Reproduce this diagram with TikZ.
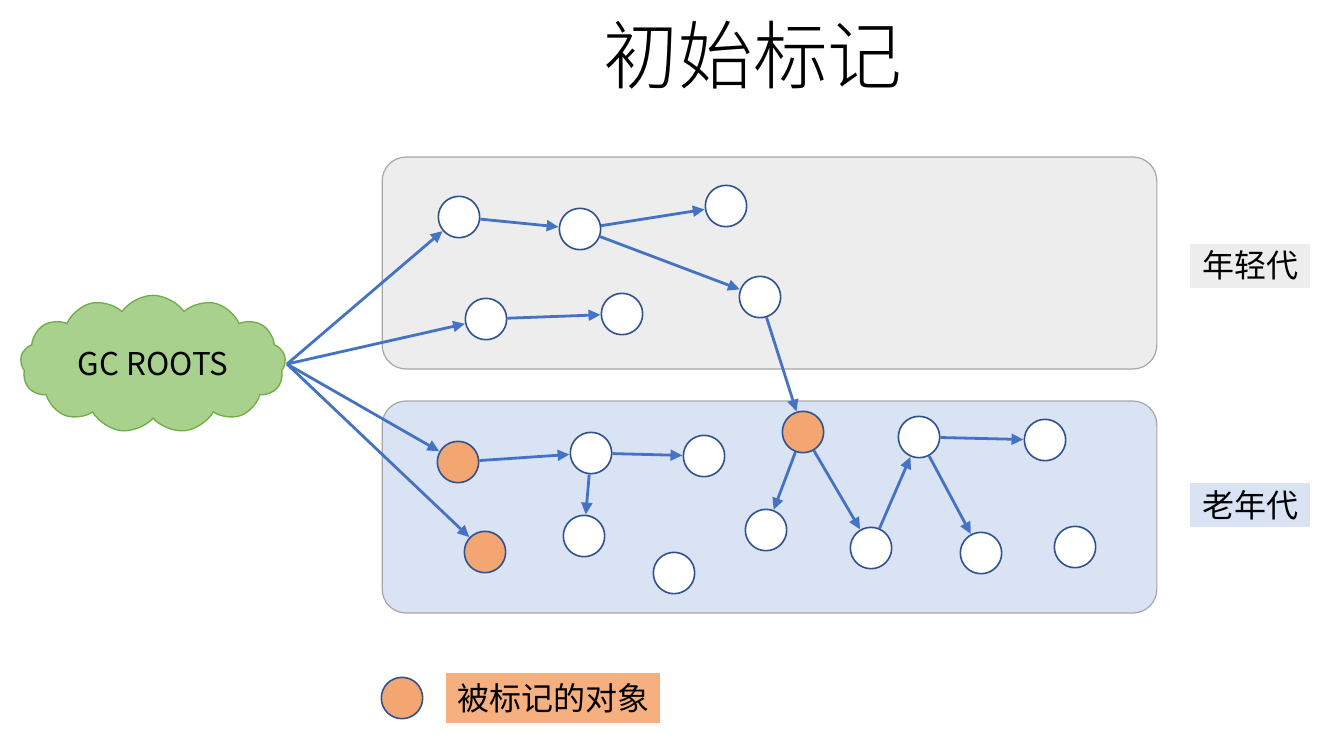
\documentclass[tikz,border=0pt]{standalone}
\usepackage{fontspec}
\setmainfont{Noto Sans CJK SC}
\newfontfamily\titlefont{Noto Sans CJK SC Light}
\usetikzlibrary{shapes.symbols,arrows.meta}
\definecolor{youngfill}{HTML}{EDEDED}
\definecolor{oldfill}{HTML}{DAE3F3}
\definecolor{regline}{HTML}{A6A6A6}
\definecolor{objline}{HTML}{2F528F}
\definecolor{edgeblue}{HTML}{4472C4}
\definecolor{markfill}{HTML}{F4A672}
\definecolor{legfill}{HTML}{F6B080}
\definecolor{cloudfill}{HTML}{A9D18E}
\definecolor{cloudline}{HTML}{70AD47}
\begin{document}
\begin{tikzpicture}[x=0.75pt,y=-0.75pt,
  region/.style={draw=regline, line width=0.9pt, rounded corners=18pt, minimum width=581pt, minimum height=159pt, inner sep=0pt},
  obj/.style={circle, draw=objline, fill=white, line width=1.2pt, minimum size=31pt, inner sep=0pt},
  marked/.style={obj, fill=markfill},
  edge/.style={draw=edgeblue, line width=2.1pt, -{Triangle[length=9pt,width=8pt]}},
  genlabel/.style={inner sep=0pt, minimum width=90pt, minimum height=33pt, font=\fontsize{24}{28}\selectfont}
]
\useasboundingbox (0,0) rectangle (1330,744);

% title
\node[font=\titlefont\fontsize{56}{64}\selectfont] (title) at (753,55) {初始标记};

% regions
\node[region, fill=youngfill] (young) at (769.5,263) {};
\node[region, fill=oldfill] (old) at (769.5,507) {};

% generation labels
\node[genlabel, fill=youngfill] (ylab) at (1250,265.5) {年轻代};
\node[genlabel, fill=oldfill] (olab) at (1250,505) {老年代};

% GC roots cloud
\node[cloud, cloud puffs=13, cloud puff arc=110, aspect=2.2, draw=cloudline, fill=cloudfill, line width=1pt,
      minimum width=199pt, minimum height=103pt, inner sep=0pt, font=\fontsize{23.5}{26}\selectfont] (root) at (153,364) {GC ROOTS};
\coordinate (rt) at (287,364);

% young objects
\node[obj] (A) at (459,217) {};
\node[obj] (B) at (580,229) {};
\node[obj] (C) at (726,206) {};
\node[obj] (D) at (760,297) {};
\node[obj] (E) at (486,319) {};
\node[obj] (F) at (622,314) {};

% old objects
\node[marked] (O1) at (803,432) {};
\node[marked] (G) at (458,462) {};
\node[obj] (H) at (591,453) {};
\node[obj] (I) at (704,456) {};
\node[obj] (J) at (584,536) {};
\node[marked] (K) at (485,552) {};
\node[obj] (L) at (674,573) {};
\node[obj] (M) at (766,530) {};
\node[obj] (N) at (871,548) {};
\node[obj] (P) at (919,437) {};
\node[obj] (Q) at (1045,440) {};
\node[obj] (R) at (981,553) {};
\node[obj] (S) at (1075,547) {};

% edges
\draw[edge] (rt) -- (A);
\draw[edge] (rt) -- (E);
\draw[edge] (rt) -- (G);
\draw[edge] (rt) -- (K);
\draw[edge] (A) -- (B);
\draw[edge] (B) -- (C);
\draw[edge] (B) -- (D);
\draw[edge] (D) -- (O1);
\draw[edge] (E) -- (F);
\draw[edge] (G) -- (H);
\draw[edge] (H) -- (I);
\draw[edge] (H) -- (J);
\draw[edge] (O1) -- (M);
\draw[edge] (O1) -- (N);
\draw[edge] (N) -- (P);
\draw[edge] (P) -- (Q);
\draw[edge] (P) -- (R);

% legend
\node[marked] (legdot) at (402,698) {};
\node[fill=legfill, inner sep=0pt, minimum width=160pt, minimum height=37pt, font=\fontsize{24}{28}\selectfont] (legtext) at (553,698) {被标记的对象};
\end{tikzpicture}
\end{document}
